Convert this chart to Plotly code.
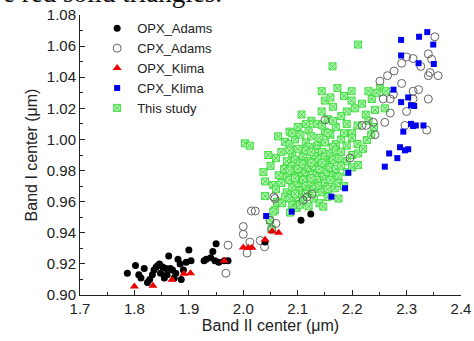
import plotly.graph_objects as go

# ---------------- data (x = Band II center, y = Band I center, µm) ----------------
opx_adams = [
    (1.787, 0.914), (1.802, 0.919), (1.808, 0.913), (1.812, 0.911), (1.818, 0.917),
    (1.824, 0.908), (1.828, 0.910), (1.833, 0.913), (1.836, 0.916), (1.840, 0.918),
    (1.843, 0.919), (1.846, 0.920), (1.848, 0.914), (1.852, 0.918), (1.855, 0.911),
    (1.858, 0.917), (1.860, 0.913), (1.863, 0.925), (1.866, 0.917), (1.870, 0.916),
    (1.873, 0.911), (1.876, 0.914), (1.880, 0.923), (1.884, 0.920), (1.886, 0.910),
    (1.890, 0.916), (1.895, 0.921), (1.900, 0.929), (1.904, 0.922), (1.928, 0.922),
    (1.932, 0.923), (1.940, 0.924), (1.944, 0.928), (1.948, 0.922), (1.950, 0.933),
    (1.955, 0.921), (1.965, 0.922), (1.972, 0.922), (2.040, 0.934), (2.106, 0.948),
    (2.124, 0.952),
]

cpx_adams = [
    (1.968, 0.914), (1.972, 0.932), (2.000, 0.944), (2.000, 0.939), (2.012, 0.934),
    (2.007, 0.927), (2.015, 0.954), (2.022, 0.954), (2.031, 0.935), (2.039, 0.931),
    (2.049, 0.948), (2.058, 0.962), (2.060, 0.946), (2.052, 0.942), (2.110, 0.961),
    (2.117, 0.963), (2.126, 0.965), (2.196, 0.988), (2.242, 1.003), (2.218, 1.009),
    (2.226, 1.009), (2.150, 1.0125), (2.239, 1.011), (2.260, 1.011), (2.270, 1.017),
    (2.270, 1.026), (2.257, 1.026), (2.251, 1.0375), (2.265, 1.041), (2.277, 1.044),
    (2.291, 1.036), (2.291, 1.049), (2.300, 1.053), (2.312, 1.052), (2.326, 1.047),
    (2.340, 1.041), (2.343, 1.043), (2.358, 1.041), (2.340, 1.055), (2.346, 1.0515),
    (2.352, 1.066), (2.312, 1.031), (2.322, 1.032), (2.312, 1.026), (2.340, 1.026),
    (2.300, 1.018), (2.297, 1.009), (2.337, 1.006), (2.276, 1.029), (2.056, 0.963),
]

opx_klima = [
    (1.800, 0.9055), (1.834, 0.906), (1.869, 0.9098), (1.891, 0.9137), (1.903, 0.914),
    (1.965, 0.922), (2.000, 0.9306), (2.009, 0.9303), (2.016, 0.9303), (2.040, 0.9355),
    (2.053, 0.941), (2.065, 0.940),
]

cpx_klima = [
    (2.338, 1.069), (2.323, 1.066), (2.290, 1.064), (2.349, 1.061), (2.290, 1.054),
    (2.322, 1.049), (2.350, 1.0485), (2.276, 1.032), (2.290, 1.024), (2.303, 1.027),
    (2.308, 1.022), (2.314, 1.0215), (2.294, 1.005), (2.308, 1.010), (2.312, 1.0086),
    (2.317, 1.009), (2.331, 1.009), (2.288, 0.995), (2.297, 0.993), (2.303, 0.9937),
    (2.283, 0.988), (2.268, 0.991), (2.260, 0.9825), (2.193, 0.9786), (2.187, 0.9686),
    (2.162, 0.9632), (2.089, 0.9536), (2.042, 0.9508),
]

this_study = [
    (2.211, 1.061), (2.164, 1.047),
    (2.144, 1.031), (2.173, 1.033), (2.199, 1.031), (2.150, 1.025), (2.230, 1.031),
    (2.236, 1.026), (2.251, 1.033), (2.199, 1.025), (2.218, 1.023), (2.185, 1.028),
    (2.160, 1.027), (2.245, 1.030), (2.262, 1.031),
    (2.107, 1.016), (2.144, 1.018), (2.165, 1.021), (2.242, 1.019), (2.190, 1.018),
    (2.205, 1.020), (2.225, 1.016), (2.180, 1.015), (2.155, 1.013), (2.260, 1.020),
    (2.125, 1.012),
    (2.100, 1.008), (2.120, 1.006), (2.135, 1.010), (2.150, 1.005), (2.170, 1.008),
    (2.190, 1.010), (2.210, 1.009), (2.200, 1.004), (2.230, 1.012), (2.165, 1.012),
    (2.145, 1.009), (2.085, 1.005), (2.115, 1.010), (2.240, 1.008),
    (2.003, 0.9975), (2.012, 0.996), (2.064, 1.002), (2.077, 0.9985), (2.085, 0.997),
    (2.095, 1.000), (2.105, 1.003), (2.115, 0.998), (2.125, 1.002), (2.135, 0.996),
    (2.140, 1.001), (2.150, 0.998), (2.160, 1.003), (2.170, 0.997), (2.180, 1.000),
    (2.190, 0.996), (2.200, 1.001), (2.210, 0.997), (2.227, 0.9996), (2.235, 1.003),
    (2.090, 1.004), (2.155, 1.004), (2.120, 0.995), (2.165, 0.995), (2.185, 1.004),
    (2.046, 0.990), (2.060, 0.988), (2.070, 0.992), (2.080, 0.986), (2.090, 0.991),
    (2.095, 0.987), (2.100, 0.994), (2.110, 0.989), (2.115, 0.993), (2.120, 0.986),
    (2.130, 0.990), (2.135, 0.994), (2.140, 0.987), (2.145, 0.992), (2.150, 0.989),
    (2.155, 0.985), (2.160, 0.991), (2.165, 0.987), (2.170, 0.993), (2.175, 0.988),
    (2.180, 0.992), (2.190, 0.986), (2.200, 0.990), (2.211, 0.991), (2.220, 0.994),
    (2.105, 0.985), (2.125, 0.992), (2.085, 0.993),
    (2.037, 0.979), (2.050, 0.983), (2.065, 0.977), (2.075, 0.981), (2.080, 0.976),
    (2.090, 0.983), (2.095, 0.978), (2.100, 0.981), (2.105, 0.976), (2.110, 0.984),
    (2.115, 0.979), (2.120, 0.982), (2.125, 0.977), (2.130, 0.983), (2.135, 0.978),
    (2.140, 0.981), (2.145, 0.976), (2.150, 0.984), (2.155, 0.979), (2.160, 0.982),
    (2.165, 0.977), (2.170, 0.981), (2.175, 0.976), (2.180, 0.983), (2.190, 0.979),
    (2.200, 0.982), (2.211, 0.9836), (2.085, 0.980), (2.125, 0.985), (2.145, 0.985),
    (2.040, 0.973), (2.055, 0.9707), (2.060, 0.968), (2.070, 0.972), (2.080, 0.966),
    (2.085, 0.974), (2.090, 0.969), (2.100, 0.972), (2.105, 0.967), (2.110, 0.974),
    (2.115, 0.970), (2.120, 0.966), (2.125, 0.972), (2.130, 0.968), (2.135, 0.974),
    (2.140, 0.970), (2.145, 0.966), (2.150, 0.972), (2.155, 0.968), (2.160, 0.974),
    (2.168, 0.9686), (2.175, 0.972), (2.185, 0.970), (2.095, 0.975), (2.125, 0.975),
    (2.040, 0.9636), (2.062, 0.960), (2.071, 0.959), (2.077, 0.9632), (2.085, 0.962),
    (2.090, 0.958), (2.100, 0.963), (2.110, 0.960), (2.120, 0.957), (2.130, 0.962),
    (2.140, 0.959), (2.147, 0.9568), (2.175, 0.962), (2.155, 0.963), (2.095, 0.965),
    (2.115, 0.965),
    (2.058, 0.9546), (2.055, 0.9536), (2.049, 0.948), (2.086, 0.953), (2.098, 0.956),
    (2.104, 0.958), (2.052, 0.9426),
]

x_ticks = [1.7, 1.8, 1.9, 2.0, 2.1, 2.2, 2.3, 2.4]
y_ticks = [0.90, 0.92, 0.94, 0.96, 0.98, 1.00, 1.02, 1.04, 1.06, 1.08]


def xs(pts):
    return [p[0] for p in pts]


def ys(pts):
    return [p[1] for p in pts]


FONT = "Arial, 'Liberation Sans', sans-serif"

fig = go.Figure()

fig.add_trace(go.Scatter(
    x=xs(this_study), y=ys(this_study), mode="markers", name="This study",
    legendrank=5,
    marker=dict(symbol="square-x", size=7, color="#b0f3b0",
                line=dict(color="#40de40", width=1)),
))
fig.add_trace(go.Scatter(
    x=xs(cpx_adams), y=ys(cpx_adams), mode="markers", name="CPX_Adams",
    legendrank=2,
    marker=dict(symbol="circle-open", size=8, color="#666666",
                line=dict(width=1)),
))
fig.add_trace(go.Scatter(
    x=xs(opx_adams), y=ys(opx_adams), mode="markers", name="OPX_Adams",
    legendrank=1,
    marker=dict(symbol="circle", size=7, color="#000000"),
))
fig.add_trace(go.Scatter(
    x=xs(opx_klima), y=ys(opx_klima), mode="markers", name="OPX_Klima",
    legendrank=3,
    marker=dict(symbol="triangle-up", size=8, color="#ee0000"),
))
fig.add_trace(go.Scatter(
    x=xs(cpx_klima), y=ys(cpx_klima), mode="markers", name="CPX_Klima",
    legendrank=4,
    marker=dict(symbol="square", size=6, color="#0000ee"),
))

axis_common = dict(
    showline=True, linecolor="#222222", linewidth=1,
    ticks="inside", ticklen=5, tickcolor="#222222", tickwidth=1,
    showgrid=False, zeroline=False, mirror=False, automargin=False,
    tickfont=dict(family=FONT, size=15, color="#222222"),
)

fig.update_xaxes(
    range=[1.7, 2.4], tickvals=x_ticks, tickformat=".1f",
    minor=dict(ticks="inside", ticklen=3, dtick=0.05, tick0=1.7, tickcolor="#222222"),
    title=dict(text="Band II center (μm)", font=dict(family=FONT, size=16, color="#222222"), standoff=3),
    **axis_common,
)
fig.update_yaxes(
    range=[0.90, 1.08], tickvals=y_ticks, tickformat=".2f",
    minor=dict(ticks="inside", ticklen=3, dtick=0.01, tick0=0.9, tickcolor="#222222"),
    title=dict(text="Band I center (μm)", font=dict(family=FONT, size=16, color="#222222"), standoff=5),
    **axis_common,
)

fig.update_layout(
    width=474, height=341,
    margin=dict(l=80, r=13, t=15, b=46, pad=0, autoexpand=False),
    paper_bgcolor="white", plot_bgcolor="white",
    showlegend=True,
    legend=dict(
        x=0.045, y=1.006, xanchor="left", yanchor="top",
        bgcolor="rgba(0,0,0,0)", borderwidth=0,
        font=dict(family=FONT, size=13, color="#222222"),
        itemsizing="trace", tracegroupgap=0,
    ),
    annotations=[dict(
        text="e red solid triangles.", xref="paper", yref="paper",
        x=(224 - 80) / 381, y=1.018, xanchor="right", yanchor="bottom",
        showarrow=False,
        font=dict(family="'Liberation Serif', 'Times New Roman', serif", size=27, color="#111111"),
    )],
)

fig.write_html("out.html")
